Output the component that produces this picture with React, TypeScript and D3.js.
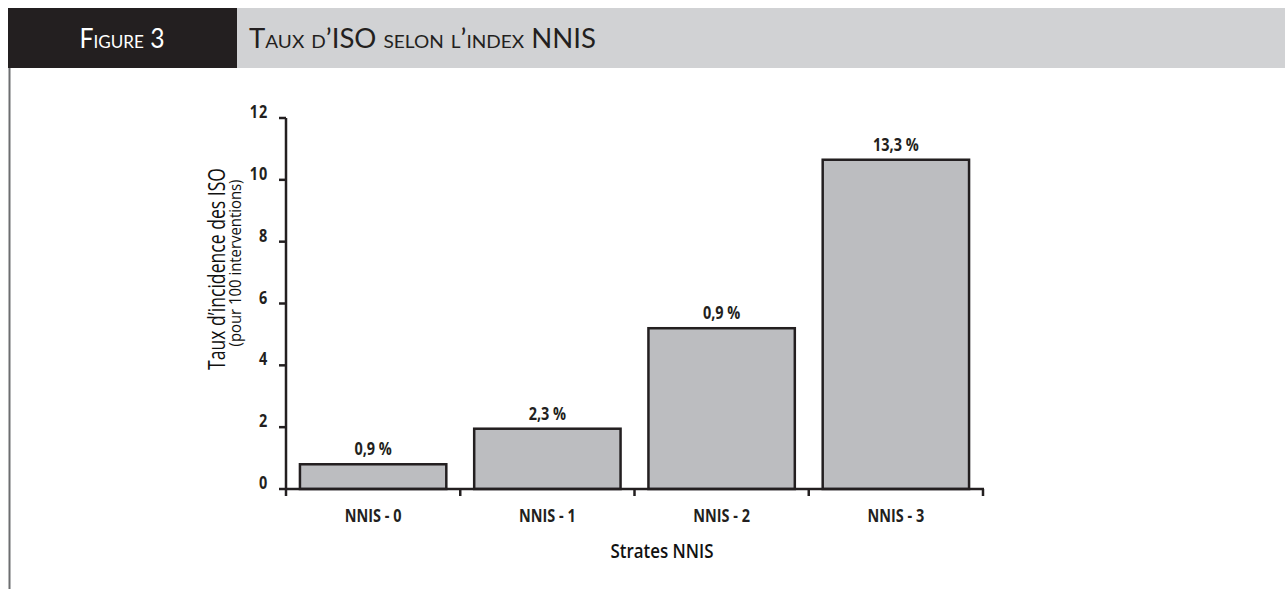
import * as d3 from "d3";
import React from "react";

const categories = ["NNIS - 0", "NNIS - 1", "NNIS - 2", "NNIS - 3"];
const values = [0.8, 1.95, 5.2, 10.65];
const valueLabels = ["0,9 %", "2,3 %", "0,9 %", "13,3 %"];
const yTicks = [0, 2, 4, 6, 8, 10, 12];

const W = 1285;
const H = 589;
const ink = "#231f20";
const font = "'Open Sans', sans-serif";
const narrow = 0.85; // condense Open Sans toward the original's narrow face

const App: React.FC = () => {
  const x = d3
    .scaleBand<string>()
    .domain(categories)
    .range([286, 983])
    .paddingInner(0.16)
    .paddingOuter(0.08);
  const xTicks = d3.scaleBand<string>().domain(categories).range([286, 983]);
  const y = d3.scaleLinear().domain([0, 12]).range([489, 118]);

  const label = (tx: number, ty: number, s: string, anchor = "middle", ls = 0) => (
    <text
      transform={`translate(${tx},${ty}) scale(${narrow},1)`}
      textAnchor={anchor}
      fontFamily={font}
      fontWeight={700}
      fontSize={17}
      letterSpacing={ls}
      fill={ink}
    >
      {s}
    </text>
  );

  return (
    <svg
      width={W}
      height={H}
      style={{ position: "absolute", left: 0, top: 0, background: "#fff" }}
    >
      {/* header band */}
      <rect x={8} y={8} width={W - 8} height={60} fill="#d1d2d4" />
      <rect x={8} y={8} width={229} height={60} fill={ink} />
      <text
        x={122}
        y={48}
        textAnchor="middle"
        fill="#fff"
        fontFamily="Lato, sans-serif"
        fontSize={26}
        textLength={85}
        lengthAdjust="spacingAndGlyphs"
        style={{ fontVariant: "small-caps" }}
      >
        Figure 3
      </text>
      <text
        x={249}
        y={48}
        fill={ink}
        fontFamily="Lato, sans-serif"
        fontSize={26}
        textLength={347}
        lengthAdjust="spacingAndGlyphs"
        style={{ fontVariant: "small-caps" }}
      >
        Taux d’ISO selon l’index NNIS
      </text>
      <line x1={9.5} y1={68} x2={9.5} y2={H} stroke="#6d6e70" strokeWidth={2} />

      {/* bars */}
      {values.map((v, i) => (
        <g key={categories[i]}>
          <rect
            x={x(categories[i])!}
            y={y(v)}
            width={x.bandwidth()}
            height={y(0) - y(v)}
            fill="#bcbdc0"
            stroke={ink}
            strokeWidth={2.5}
          />
          {label(x(categories[i])! + x.bandwidth() / 2, y(v) - 9, valueLabels[i])}
        </g>
      ))}

      {/* y axis */}
      <line x1={286} y1={y(12)} x2={286} y2={y(0)} stroke={ink} strokeWidth={2.5} />
      {yTicks.map((t) => (
        <g key={t}>
          <line x1={279} x2={286} y1={y(t)} y2={y(t)} stroke={ink} strokeWidth={2.5} />
          {label(268, y(t), String(t), "end", 1)}
        </g>
      ))}

      {/* x axis */}
      <line x1={285} y1={y(0)} x2={984} y2={y(0)} stroke={ink} strokeWidth={2.5} />
      {[...categories.map((c) => xTicks(c)!), 983].map((px, i) => (
        <line key={i} x1={px} x2={px} y1={y(0)} y2={y(0) + 7} stroke={ink} strokeWidth={2.5} />
      ))}
      {categories.map((c) => (
        <g key={c}>{label(x(c)! + x.bandwidth() / 2, 522, c)}</g>
      ))}
      <text
        x={662}
        y={558}
        textAnchor="middle"
        fontFamily={font}
        fontWeight={600}
        fontSize={20}
        textLength={103}
        lengthAdjust="spacingAndGlyphs"
        fill="#111"
      >
        Strates NNIS
      </text>

      {/* y title */}
      <text
        transform="translate(225,269) rotate(-90)"
        textAnchor="middle"
        fontFamily={font}
        fontWeight={500}
        fontSize={23}
        textLength={202}
        lengthAdjust="spacingAndGlyphs"
        fill="#111"
      >
        Taux d’incidence des ISO
      </text>
      <text
        transform="translate(241,263) rotate(-90)"
        textAnchor="middle"
        fontFamily={font}
        fontWeight={500}
        fontSize={16}
        textLength={167}
        lengthAdjust="spacingAndGlyphs"
        fill="#111"
      >
        (pour 100 interventions)
      </text>
    </svg>
  );
};

export default App;
